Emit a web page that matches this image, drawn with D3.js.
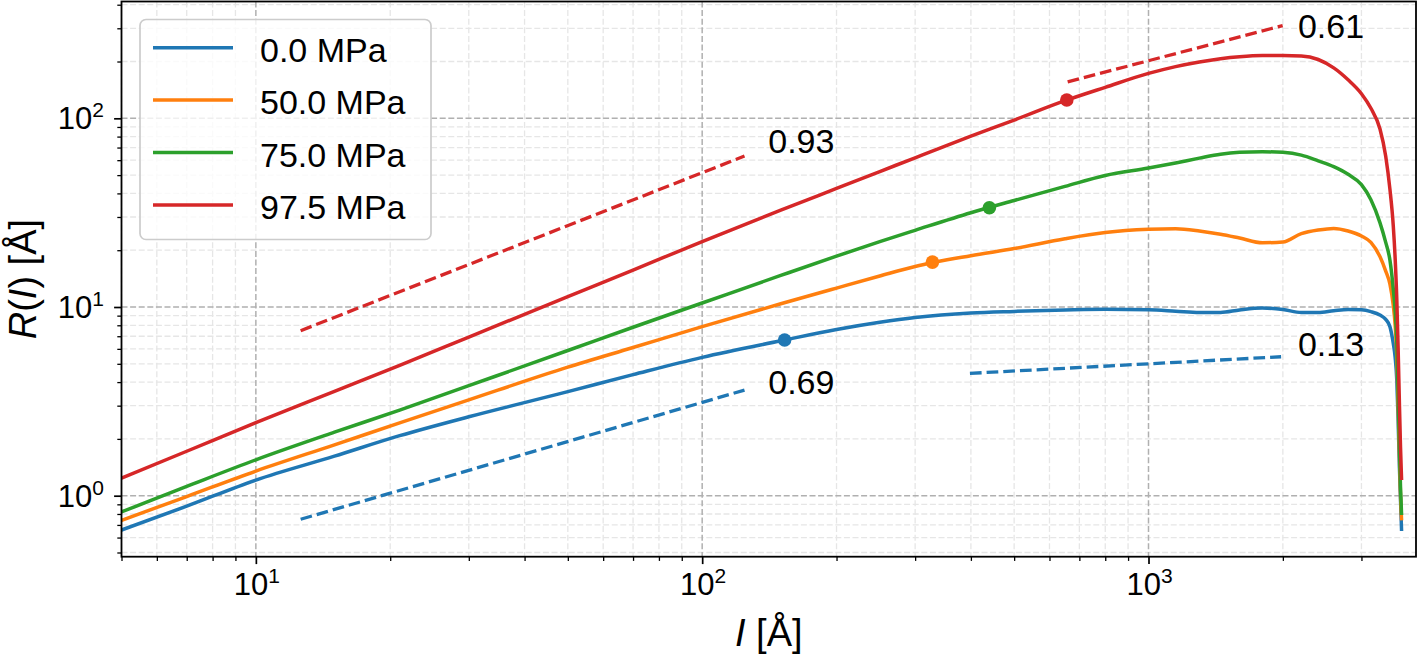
<!DOCTYPE html>
<html>
<head>
<meta charset="utf-8">
<script src="https://cdn.jsdelivr.net/npm/d3@7"></script>
<style>
  html, body { margin: 0; padding: 0; background: #fff; }
  svg { display: block; }
  text { font-family: "Liberation Sans", "DejaVu Sans", sans-serif; fill: #000; }
</style>
</head>
<body>
<svg id="chart" width="1418" height="658"></svg>
<script>
// ---------------- data ----------------
const seriesNames = ["0.0 MPa", "50.0 MPa", "75.0 MPa", "97.5 MPa"];
const seriesColors = ["#1f77b4", "#ff7f0e", "#2ca02c", "#d62728"];

const lengthX = [5, 7, 10, 15, 21, 30, 50, 70, 100, 150, 200, 250, 300, 400, 500, 650, 800,
  1000, 1150, 1300, 1450, 1600, 1800, 2000, 2200, 2400, 2600, 2800, 3000, 3150, 3300,
  3400, 3475, 3535, 3570, 3600, 3625, 3650, 3670, 3690];

const r0 = [0.658, 0.88, 1.21, 1.62, 2.08, 2.62, 3.56, 4.38, 5.41, 6.62, 7.6, 8.3, 8.8, 9.3, 9.48, 9.64, 9.72,
  9.66, 9.5, 9.35, 9.35, 9.65, 9.88, 9.7, 9.35, 9.35, 9.55, 9.7, 9.66, 9.45, 9.07,
  8.6, 7.86, 6.42, 5.4, 4.1, 2.5, 1.4, 0.95, 0.65];
const r50 = [0.74, 0.99, 1.35, 1.86, 2.43, 3.22, 4.8, 6.1, 7.87, 10.4, 12.6, 14.6, 16.4, 18.7, 20.4, 23.0, 24.8,
  25.8, 26.0, 25.3, 24.3, 23.2, 21.9, 22.1, 24.5, 25.6, 26.1, 25.3, 23.8, 22.0, 18.5,
  15.5, 13.2, 10.2, 8.0, 5.5, 3.0, 1.6, 1.0, 0.74];
const r75 = [0.82, 1.12, 1.55, 2.17, 2.84, 3.83, 5.88, 7.81, 10.5, 14.7, 18.6, 22.2, 25.5, 31.6, 36.7, 43.6, 49.8,
  54.5, 58, 61.5, 64.5, 66, 66.5, 66, 63.8, 59.5, 55.4, 50.5, 44.5, 37, 28,
  22, 17.7, 12.5, 9.5, 6.5, 3.5, 1.8, 1.1, 0.79];
const r97 = [1.24, 1.72, 2.44, 3.57, 4.9, 6.93, 11.36, 15.7, 22.2, 32.6, 42.5, 52.2, 61.8, 80.4, 97.9, 124, 146,
  173, 188, 199, 207, 212, 215, 215, 214, 205, 185, 160, 135, 113, 88,
  63, 42, 27, 18, 11, 6, 3, 1.8, 1.21];
const seriesValues = [r0, r50, r75, r97];

const markerX = [153, 328, 440, 656];
const markerY = [6.69, 17.3, 33.6, 125];

// power-law guide lines (dashed) and their exponent labels
const guideX0 = [12.6, 12.6, 398, 659];
const guideY0 = [0.75, 7.49, 4.45, 156];
const guideX1 = [124.4, 124.4, 1982, 1998];
const guideY1 = [3.63, 63.1, 5.45, 310];
const guideSeries = [0, 3, 0, 3];
const labelText = ["0.69", "0.93", "0.13", "0.61"];
const labelX = [140.6, 140.6, 2162, 2162];
const labelY = [3.46, 65.5, 5.5, 266];

const xMajor = [10, 100, 1000];
const xMajorExp = ["1", "2", "3"];
const yMajor = [1, 10, 100];
const yMajorExp = ["0", "1", "2"];

// ---------------- layout ----------------
const pL = 121.5, pR = 1416, pT = 1.5, pB = 556.7;
const LW = 3.5;

const svg = d3.select("#chart");
const x = d3.scaleLog().domain([5, 3975]).range([pL, pR]);
const y = d3.scaleLog().domain([0.475, 416]).range([pB, pT]);

function minorTicks(scale) {
  const [a, b] = scale.domain();
  const out = [];
  for (let e = Math.floor(Math.log10(a)); e <= Math.ceil(Math.log10(b)); e++) {
    for (let m = 2; m <= 9; m++) {
      const v = m * Math.pow(10, e);
      if (v >= a * 0.9999 && v <= b * 1.0001) out.push(v);
    }
  }
  return out;
}
const xMinor = minorTicks(x);
const yMinor = minorTicks(y);

svg.append("defs").append("clipPath").attr("id", "clip")
  .append("rect").attr("x", pL).attr("y", pT).attr("width", pR - pL).attr("height", pB - pT);

// ---------------- grid ----------------
const grid = svg.append("g");
grid.selectAll("line.xmin").data(xMinor).join("line")
  .attr("x1", d => x(d)).attr("x2", d => x(d)).attr("y1", pT).attr("y2", pB)
  .attr("stroke", "#e6e6e6").attr("stroke-width", 1.3).attr("stroke-dasharray", "6,2.6");
grid.selectAll("line.ymin").data(yMinor).join("line")
  .attr("y1", d => y(d)).attr("y2", d => y(d)).attr("x1", pL).attr("x2", pR)
  .attr("stroke", "#e6e6e6").attr("stroke-width", 1.3).attr("stroke-dasharray", "6,2.6");
grid.selectAll("line.xmaj").data(xMajor).join("line")
  .attr("x1", d => x(d)).attr("x2", d => x(d)).attr("y1", pT).attr("y2", pB)
  .attr("stroke", "#b0b0b0").attr("stroke-width", 1.5).attr("stroke-dasharray", "6,2.6");
grid.selectAll("line.ymaj").data(yMajor).join("line")
  .attr("y1", d => y(d)).attr("y2", d => y(d)).attr("x1", pL).attr("x2", pR)
  .attr("stroke", "#b0b0b0").attr("stroke-width", 1.5).attr("stroke-dasharray", "6,2.6");

// ---------------- guides ----------------
const plot = svg.append("g").attr("clip-path", "url(#clip)");
plot.selectAll("line.guide").data(guideX0).join("line")
  .attr("x1", (d, i) => x(guideX0[i])).attr("y1", (d, i) => y(guideY0[i]))
  .attr("x2", (d, i) => x(guideX1[i])).attr("y2", (d, i) => y(guideY1[i]))
  .attr("stroke", (d, i) => seriesColors[guideSeries[i]])
  .attr("stroke-width", 3.3).attr("stroke-dasharray", "11.7,5");

// ---------------- curves ----------------
const line = d3.line().x(d => x(d[0])).y(d => y(d[1])).curve(d3.curveMonotoneX);
seriesValues.forEach((vals, i) => {
  plot.append("path")
    .datum(lengthX.map((lx, j) => [lx, vals[j]]))
    .attr("d", line)
    .attr("fill", "none")
    .attr("stroke", seriesColors[i])
    .attr("stroke-width", LW)
    .attr("stroke-linejoin", "round");
});
plot.selectAll("circle.mk").data(markerX).join("circle")
  .attr("cx", (d, i) => x(markerX[i])).attr("cy", (d, i) => y(markerY[i]))
  .attr("r", 6.8).attr("fill", (d, i) => seriesColors[i]);

// guide labels
svg.selectAll("text.glab").data(labelText).join("text")
  .attr("x", (d, i) => x(labelX[i])).attr("y", (d, i) => y(labelY[i]))
  .attr("font-size", 34).text(d => d);

// ---------------- axes ----------------
const axes = svg.append("g");
const xAxisMaj = d3.axisBottom(x).tickValues(xMajor).tickSize(7.4).tickFormat("");
const xAxisMin = d3.axisBottom(x).tickValues(xMinor).tickSize(4.2).tickFormat("");
const yAxisMaj = d3.axisLeft(y).tickValues(yMajor).tickSize(7.4).tickFormat("");
const yAxisMin = d3.axisLeft(y).tickValues(yMinor).tickSize(4.2).tickFormat("");
function styleAxis(g, w) {
  g.select(".domain").remove();
  g.selectAll(".tick line").attr("stroke", "#000").attr("stroke-width", w);
}
axes.append("g").attr("transform", `translate(0,${pB})`).call(xAxisMaj).call(g => styleAxis(g, 1.7));
axes.append("g").attr("transform", `translate(0,${pB})`).call(xAxisMin).call(g => styleAxis(g, 1.3));
axes.append("g").attr("transform", `translate(${pL},0)`).call(yAxisMaj).call(g => styleAxis(g, 1.7));
axes.append("g").attr("transform", `translate(${pL},0)`).call(yAxisMin).call(g => styleAxis(g, 1.3));

// spines
axes.append("rect").attr("x", pL).attr("y", pT).attr("width", pR - pL).attr("height", pB - pT)
  .attr("fill", "none").attr("stroke", "#000").attr("stroke-width", 1.8);

// tick labels with superscripts
xMajor.forEach((v, i) => {
  const t = axes.append("text").attr("x", x(v) + 1).attr("y", pB + 38.5)
    .attr("text-anchor", "middle").attr("font-size", 31);
  t.append("tspan").text("10");
  t.append("tspan").attr("dy", -12).attr("font-size", 21).text(xMajorExp[i]);
});
yMajor.forEach((v, i) => {
  const t = axes.append("text").attr("x", 104).attr("y", y(v) + 11)
    .attr("text-anchor", "end").attr("font-size", 31);
  t.append("tspan").text("10");
  t.append("tspan").attr("dy", -12).attr("font-size", 21).text(yMajorExp[i]);
});

// axis titles
const xt = svg.append("text").attr("x", (pL + pR) / 2).attr("y", 646)
  .attr("text-anchor", "middle").attr("font-size", 38);
xt.append("tspan").attr("font-style", "italic").text("I");
xt.append("tspan").text(" [Å]");

const yt = svg.append("text").attr("transform", `translate(36,${(pT + pB) / 2}) rotate(-90)`)
  .attr("text-anchor", "middle").attr("font-size", 38);
yt.append("tspan").attr("font-style", "italic").text("R");
yt.append("tspan").text("(");
yt.append("tspan").attr("font-style", "italic").text("I");
yt.append("tspan").text(") [Å]");

// ---------------- legend ----------------
const lg = svg.append("g");
lg.append("rect").attr("x", 140).attr("y", 19.5).attr("width", 291).attr("height", 220).attr("rx", 6)
  .attr("fill", "#fff").attr("fill-opacity", 0.8).attr("stroke", "#cccccc").attr("stroke-width", 1.7);
seriesNames.forEach((name, i) => {
  const cy = 47.7 + i * 52.4;
  lg.append("line").attr("x1", 153).attr("x2", 233).attr("y1", cy).attr("y2", cy)
    .attr("stroke", seriesColors[i]).attr("stroke-width", LW);
  lg.append("text").attr("x", 260).attr("y", cy + 14).attr("font-size", 34).text(name);
});
</script>
</body>
</html>
